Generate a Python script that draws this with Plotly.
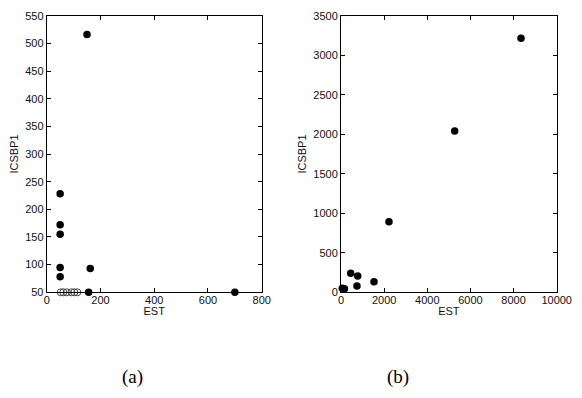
import plotly.graph_objects as go

# Panel (a)
a_est = [150, 50, 50, 50, 50, 50, 162, 156, 700]
a_icsbp1 = [516, 228, 172, 155, 95, 78, 93, 50, 50]
a_open_est = [52, 62, 75, 92, 103, 114]
a_open_icsbp1 = [50, 50, 50, 50, 50, 50]

# Panel (b)
b_est = [8345, 5270, 2225, 450, 775, 1530, 740, 60, 160]
b_icsbp1 = [3214, 2042, 894, 242, 205, 135, 81, 50, 45]

a_xticks = [0, 200, 400, 600, 800]
a_yticks = [50, 100, 150, 200, 250, 300, 350, 400, 450, 500, 550]
b_xticks = [0, 2000, 4000, 6000, 8000, 10000]
b_yticks = [0, 500, 1000, 1500, 2000, 2500, 3000, 3500]

W, H = 582, 398
fig = go.Figure()

fig.add_trace(go.Scatter(x=a_open_est, y=a_open_icsbp1, mode="markers",
                         marker=dict(symbol="circle-open", size=7, color="#444",
                                     line=dict(width=1)),
                         cliponaxis=False, xaxis="x", yaxis="y", showlegend=False))
fig.add_trace(go.Scatter(x=a_est, y=a_icsbp1, mode="markers",
                         marker=dict(symbol="circle", size=7.5, color="black"),
                         cliponaxis=False, xaxis="x", yaxis="y", showlegend=False))
fig.add_trace(go.Scatter(x=b_est, y=b_icsbp1, mode="markers",
                         marker=dict(symbol="circle", size=7.5, color="black"),
                         cliponaxis=False, xaxis="x2", yaxis="y2", showlegend=False))

tickfont = dict(family="Liberation Sans, Arial, sans-serif", size=11, color="#111")
common = dict(showline=True, linecolor="black", linewidth=1, mirror="ticks",
              ticks="inside", ticklen=4, tickcolor="black", showgrid=False,
              zeroline=False, tickfont=tickfont, automargin=False)
xcommon = dict(ticklabelstandoff=-3, **common)

y0 = 1 - 292.3 / H
y1 = 1 - 15.7 / H

fig.update_layout(
    width=W, height=H,
    margin=dict(l=0, r=0, t=0, b=0),
    paper_bgcolor="white", plot_bgcolor="white",
    xaxis=dict(domain=[46.7 / W, 261.7 / W], range=[0, 800], tickvals=a_xticks,
               ticktext=[str(v) for v in a_xticks],
               title=dict(text="EST", font=tickfont, standoff=0), anchor="y", **xcommon),
    yaxis=dict(domain=[y0, y1], range=[50, 550], tickvals=a_yticks,
               ticktext=[str(v) for v in a_yticks],
               title=dict(text="ICSBP1", font=tickfont, standoff=4), anchor="x", **common),
    xaxis2=dict(domain=[341 / W, 556.7 / W], range=[0, 10000], tickvals=b_xticks,
                ticktext=[str(v) for v in b_xticks],
                title=dict(text="EST", font=tickfont, standoff=0), anchor="y2", **xcommon),
    yaxis2=dict(domain=[y0, y1], range=[0, 3500], tickvals=b_yticks,
                ticktext=[str(v) for v in b_yticks],
                title=dict(text="ICSBP1", font=tickfont, standoff=4), anchor="x2", **common),
    annotations=[
        dict(text="(a)", x=132 / W, y=1 - 377 / H, xref="paper", yref="paper",
             xanchor="center", yanchor="middle", showarrow=False,
             font=dict(family="Liberation Serif, Times New Roman, serif", size=19, color="black")),
        dict(text="(b)", x=398 / W, y=1 - 377 / H, xref="paper", yref="paper",
             xanchor="center", yanchor="middle", showarrow=False,
             font=dict(family="Liberation Serif, Times New Roman, serif", size=19, color="black")),
    ],
)

fig.write_html("out.html", config={"displayModeBar": False},
               post_script="document.body.style.margin='0';document.body.style.overflow='hidden';")
